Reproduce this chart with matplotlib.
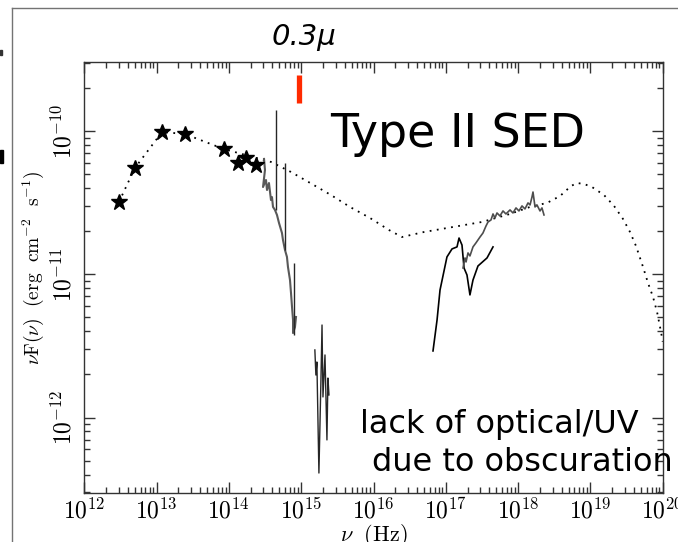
import numpy as np
import matplotlib
matplotlib.use("Agg")
import matplotlib.pyplot as plt
from matplotlib.lines import Line2D
from matplotlib.patches import Rectangle
from matplotlib.ticker import LogLocator, FuncFormatter, NullFormatter

plt.rcParams["mathtext.fontset"] = "cm"

# photometric points (stars), log10 nu [Hz], log10 nuF(nu) [erg cm^-2 s^-1]
star_lognu = [12.48, 12.70, 13.075, 13.39, 13.93, 14.12, 14.24, 14.38]
star_logf = [-10.495, -10.258, -10.007, -10.021, -10.126, -10.224, -10.189, -10.238]

# dotted template SED
model_lognu = [12.48, 12.70, 13.075, 13.39, 13.93, 14.582, 14.858, 15.149, 15.412,
               15.674, 15.951, 16.214, 16.394, 16.698, 17.099, 17.50, 17.888, 18.165,
               18.40, 18.58, 18.732, 18.815, 18.912, 19.022, 19.188, 19.327, 19.451,
               19.548, 19.631, 19.728, 19.797, 19.866, 19.922, 19.977, 20.0]
model_logf = [-10.495, -10.258, -10.007, -10.021, -10.126, -10.216, -10.286, -10.370,
              -10.447, -10.530, -10.607, -10.691, -10.740, -10.705, -10.670, -10.635,
              -10.579, -10.530, -10.502, -10.454, -10.384, -10.363, -10.370, -10.391,
              -10.447, -10.523, -10.614, -10.705, -10.803, -10.949, -11.061, -11.158,
              -11.263, -11.403, -11.47]

# optical spectrum (grey)
opt_lognu = [14.486, 14.499, 14.472, 14.513, 14.527, 14.554, 14.582, 14.596, 14.610,
             14.637, 14.665, 14.693, 14.734, 14.748, 14.776, 14.803, 14.817, 14.845,
             14.859, 14.873, 14.887, 14.887, 14.914, 14.928]
opt_logf = [-10.195, -10.272, -10.391, -10.342, -10.412, -10.363, -10.482, -10.461,
            -10.530, -10.551, -10.586, -10.642, -10.712, -10.761, -10.831, -10.879,
            -10.949, -11.040, -11.131, -11.228, -11.319, -11.410, -11.368, -11.298]

# emission-line spikes in the optical spectrum
spike_lognu = [14.651, 14.776, 14.900]
spike_lo = [-10.551, -10.830, -11.424]
spike_hi = [-9.853, -10.223, -10.921]

# UV data
uv_lognu = [15.189, 15.203, 15.217, 15.245, 15.273, 15.288, 15.301, 15.329, 15.356,
            15.370, 15.384]
uv_logf = [-11.528, -11.703, -11.612, -12.387, -11.738, -11.354, -11.856, -11.563,
           -12.156, -11.724, -11.842]

# soft X-ray spectrum (black)
xs_lognu = [16.823, 16.879, 16.920, 17.016, 17.086, 17.155, 17.183, 17.224, 17.252,
            17.293, 17.334, 17.376, 17.445, 17.570, 17.653]
xs_logf = [-11.535, -11.319, -11.110, -10.879, -10.823, -10.809, -10.747, -10.796,
           -10.956, -11.005, -11.144, -11.040, -10.942, -10.886, -10.809]

# hard X-ray spectrum (grey)
xh_lognu = [17.238, 17.266, 17.280, 17.307, 17.334, 17.376, 17.417, 17.473, 17.514,
            17.556, 17.584, 17.625, 17.653, 17.680, 17.708, 17.749, 17.791, 17.832,
            17.888, 17.929, 17.971, 18.012, 18.054, 18.095, 18.137, 18.165, 18.192,
            18.206, 18.234, 18.261, 18.303, 18.330, 18.358]
xh_logf = [-10.956, -10.886, -10.914, -10.851, -10.872, -10.809, -10.781, -10.740,
           -10.712, -10.663, -10.635, -10.621, -10.579, -10.607, -10.572, -10.593,
           -10.558, -10.579, -10.551, -10.572, -10.537, -10.558, -10.523, -10.544,
           -10.502, -10.516, -10.461, -10.426, -10.530, -10.516, -10.558, -10.537,
           -10.586]

# 0.3 micron marker
mark_lognu = 14.963
mark_logf = (-9.805, -9.609)

W, H = 678, 542
fig = plt.figure(figsize=(W / 100, H / 100), dpi=100)
ax = fig.add_axes([84.3 / W, 1 - 492.7 / H, (662.7 - 84.3) / W, (492.7 - 62) / H])

p = lambda a: 10 ** np.asarray(a)

ax.plot(p(model_lognu), p(model_logf), color="black", lw=1.3, linestyle=(0, (1, 3)))
ax.plot(p(opt_lognu), p(opt_logf), color="0.35", lw=1.5)
ax.vlines(p(spike_lognu), p(spike_lo), p(spike_hi), color="0.15", lw=1.0)
ax.plot(p(uv_lognu), p(uv_logf), color="0.15", lw=1.0)
ax.plot(p(xs_lognu), p(xs_logf), color="black", lw=1.2)
ax.plot(p(xh_lognu), p(xh_logf), color="0.3", lw=1.2)
ax.plot(p(star_lognu), p(star_logf), linestyle="none", marker="*",
        markersize=12, color="black")
ax.vlines(10 ** mark_lognu, 10 ** mark_logf[0], 10 ** mark_logf[1],
          color="#ff2a00", lw=3.8)

ax.set_xscale("log")
ax.set_yscale("log")
ax.set_xlim(1e12, 1e20)
ax.set_ylim(2.99e-13, 3.03e-10)

ax.xaxis.set_major_locator(LogLocator(base=10, numticks=20))
ax.xaxis.set_minor_locator(LogLocator(base=10, subs=np.arange(2, 10), numticks=20))
ax.yaxis.set_major_locator(LogLocator(base=10, numticks=20))
ax.yaxis.set_minor_locator(LogLocator(base=10, subs=np.arange(2, 10), numticks=20))
fmt = FuncFormatter(lambda v, pos: r"$10^{%d}$" % round(np.log10(v)))
ax.xaxis.set_major_formatter(fmt)
ax.yaxis.set_major_formatter(fmt)
ax.xaxis.set_minor_formatter(NullFormatter())
ax.yaxis.set_minor_formatter(NullFormatter())

ax.tick_params(which="both", direction="in", top=True, right=True, color="0.2", width=1.0)
ax.tick_params(which="major", length=8)
ax.tick_params(which="minor", length=4)
ax.tick_params(axis="x", labelsize=17, pad=4)
ax.tick_params(axis="y", labelsize=17, pad=6)
for lab in ax.get_yticklabels():
    lab.set_rotation(90)
    lab.set_va("center")
for s in ax.spines.values():
    s.set_color("0.2")
    s.set_linewidth(1.0)

ax.set_xlabel(r"$\nu\ \ \mathrm{(Hz)}$", fontsize=16, labelpad=-1)
ax.set_ylabel(r"$\nu\mathrm{F}(\nu)\ \ \mathrm{(erg\ \ cm^{-2}\ \ s^{-1})}$",
              fontsize=14)
ax.yaxis.set_label_coords(-0.066, 0.5 + 9 / 430.7)

fig.text(272 / W, 1 - 45 / H, "0.3μ", fontsize=21, fontstyle="italic",
         ha="left", va="baseline")
fig.text(330 / W, 1 - 147 / H, "Type II SED", fontsize=33, ha="left", va="baseline")
fig.text(360 / W, 1 - 433 / H, "lack of optical/UV", fontsize=23, ha="left", va="baseline")
fig.text(372 / W, 1 - 471 / H, "due to obscuration", fontsize=23, ha="left", va="baseline")

# slide frame around the figure
fig.add_artist(Line2D([11.5 / W, 11.5 / W], [0, 1 - 8 / H], color="0.45", lw=1.0))
fig.add_artist(Line2D([11.5 / W, 1], [1 - 8 / H, 1 - 8 / H], color="0.45", lw=1.0))
fig.add_artist(Rectangle((0, 1 - 163 / H), 3 / W, 13 / H, color="black"))
fig.add_artist(Rectangle((0, 1 - 55 / H), 2 / W, 5 / H, color="0.2"))

fig.savefig("out.png", dpi=100)
